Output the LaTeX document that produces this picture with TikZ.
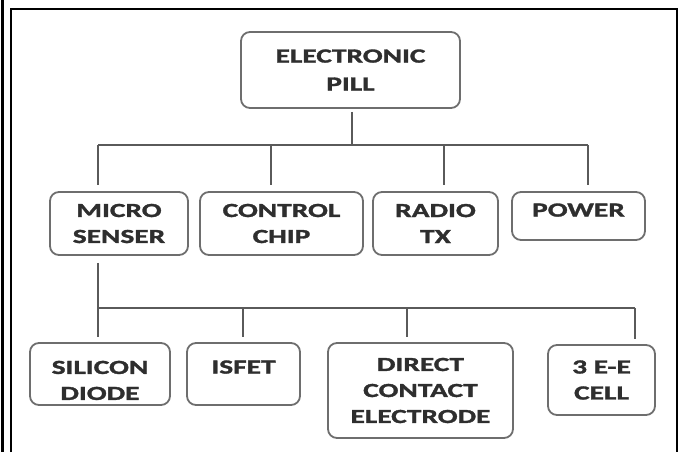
\documentclass[tikz,border=0pt]{standalone}
\usepackage{fontspec}
\newfontfamily\pillfont{Carlito Bold}[FakeStretch=1.47, FakeBold=1.6]
\definecolor{boxgray}{HTML}{6E6E6E}
\definecolor{wiregray}{HTML}{5A5A5A}
\definecolor{inkgray}{HTML}{2E2E2E}
\tikzset{
	blockbox/.style={draw=boxgray, line width=1.8pt, rounded corners=9pt, align=center,
		inner sep=0pt, text=inkgray, font=\pillfont\fontsize{20}{26}\selectfont},
	wire/.style={draw=wiregray, line width=2pt},
}
\begin{document}
\begin{tikzpicture}[x=1pt, y=-1pt]
	\useasboundingbox (0,0) rectangle (679,452);
	% frame
	\draw[line width=2.3pt] (2.5,0) -- (2.5,452);
	\draw[line width=2.3pt] (11,452) -- (11,9) -- (677,9) -- (677,452);

	\node[blockbox, minimum width=219pt, minimum height=76pt] (pill) at (350.5,70) {ELECTRONIC\\[2pt]PILL};

	\node[blockbox, minimum width=138pt, minimum height=63pt] (micro) at (119,223.5) {MICRO\\SENSER};
	\node[blockbox, minimum width=163pt, minimum height=63pt] (chip) at (281.5,223.5) {CONTROL\\CHIP};
	\node[blockbox, minimum width=125pt, minimum height=63pt] (radio) at (435.5,223.5) {RADIO\\TX};
	\node[blockbox, minimum width=133pt, minimum height=48pt, text depth=12pt] (power) at (578.5,216) {POWER};

	\node[blockbox, minimum width=140pt, minimum height=62pt, text height=52pt] (silicon) at (100,374) {SILICON\\DIODE};
	\node[blockbox, minimum width=113pt, minimum height=62pt, text depth=14pt] (isfet) at (243.5,374) {ISFET};
	\node[blockbox, minimum width=185pt, minimum height=95pt] (direct) at (420.5,390.5) {DIRECT\\CONTACT\\ELECTRODE};
	\node[blockbox, minimum width=107pt, minimum height=70pt] (cell) at (601.5,380) {3 E-E\\CELL};

	% upper tree
	\coordinate (topbus) at (352,145);
	\draw[wire, shorten <=3pt] (pill.south -| topbus) -- (topbus);
	\foreach \x/\target in {98/micro, 271/chip, 444/radio, 588/power}{
			\draw[wire, shorten >=6pt] (\x,145) -- (\x,145 |- \target.north);
		}
	\draw[wire] (98,145) -- (588,145);

	% lower tree
	\coordinate (lowbus) at (98,308);
	\draw[wire, shorten <=7pt] (micro.south -| lowbus) -- (lowbus);
	\foreach \x/\target in {98/silicon, 243/isfet, 407/direct, 635/cell}{
			\draw[wire, shorten >=5pt] (\x,308) -- (\x,308 |- \target.north);
		}
	\draw[wire] (lowbus) -- (635,308);
\end{tikzpicture}
\end{document}
